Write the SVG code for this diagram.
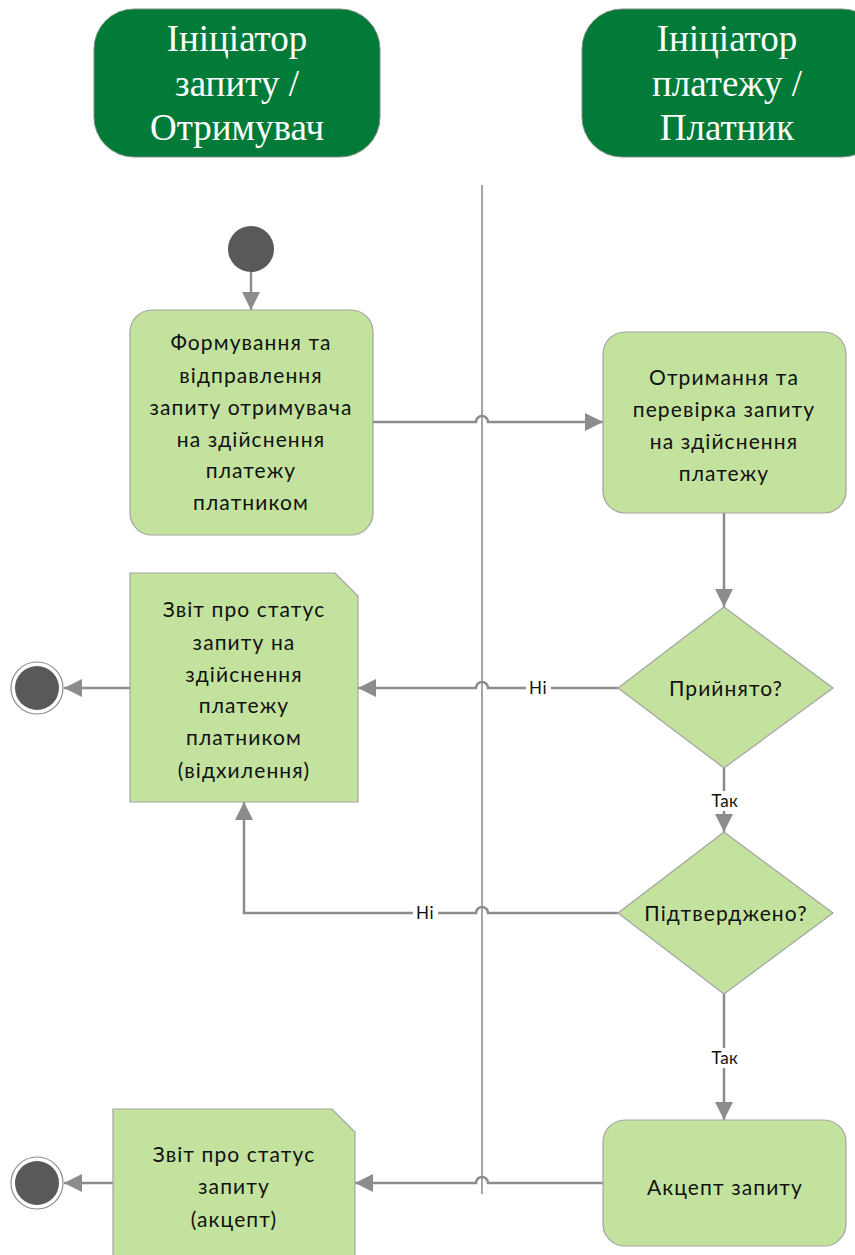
<svg xmlns="http://www.w3.org/2000/svg" width="855" height="1255" viewBox="0 0 855 1255">
  <style>
    .lane { fill: #037b38; stroke: #7f8f80; stroke-width: 1; }
    .lane-text { font-family: "Liberation Serif", "Times New Roman", serif; font-size: 37px; fill: #ffffff; text-anchor: middle; }
    .act { fill: #c3e29d; stroke: #a3a3a3; stroke-width: 1.2; }
    .txt { font-family: Lato, "Noto Sans", sans-serif; font-size: 21px; letter-spacing: 1.1px; fill: #111111; text-anchor: middle; }
    .lbl { font-family: Lato, "Noto Sans", sans-serif; font-size: 17px; letter-spacing: 0.5px; fill: #111111; text-anchor: middle; }
    .conn { fill: none; stroke: #8c8c8c; stroke-width: 2.5; }
    .divider { fill: none; stroke: #a6a6a6; stroke-width: 2; }
    .dot { fill: #595959; }
  </style>
  <defs>
    <marker id="arrow" viewBox="0 0 10 10" refX="10" refY="5" markerWidth="7.6" markerHeight="7.2" markerUnits="strokeWidth" orient="auto">
      <path d="M0,0 L10,5 L0,10 z" fill="#8c8c8c"/>
    </marker>
  </defs>

  <rect width="855" height="1255" fill="#ffffff"/>

  <!-- swimlane headers -->
  <g id="lane-receiver">
    <rect class="lane" x="94" y="9" width="286" height="148" rx="40"/>
    <text class="lane-text" x="237" y="51">Ініціатор</text>
    <text class="lane-text" x="237" y="96">запиту /</text>
    <text class="lane-text" x="237" y="140">Отримувач</text>
  </g>
  <g id="lane-payer">
    <rect class="lane" x="582" y="9" width="300" height="148" rx="40"/>
    <text class="lane-text" x="727" y="51">Ініціатор</text>
    <text class="lane-text" x="727" y="96">платежу /</text>
    <text class="lane-text" x="727" y="140">Платник</text>
  </g>

  <!-- lane divider -->
  <line class="divider" x1="482" y1="185" x2="482" y2="1194"/>

  <!-- connectors -->
  <g id="connectors">
    <path class="conn" d="M251,272 L251,310" marker-end="url(#arrow)"/>
    <path class="conn" d="M373,422 L476,422 A6,6 0 0 1 488,422 L603,422" marker-end="url(#arrow)"/>
    <path class="conn" d="M724,513 L724,607" marker-end="url(#arrow)"/>
    <path class="conn" d="M618,688 L488,688 A6,6 0 0 0 476,688 L358,688" marker-end="url(#arrow)"/>
    <path class="conn" d="M130,688 L64,688" marker-end="url(#arrow)"/>
    <path class="conn" d="M724,768 L724,832" marker-end="url(#arrow)"/>
    <path class="conn" d="M618,913 L488,913 A6,6 0 0 0 476,913 L244,913 L244,802" marker-end="url(#arrow)"/>
    <path class="conn" d="M724,994 L724,1120" marker-end="url(#arrow)"/>
    <path class="conn" d="M603,1183 L488,1183 A6,6 0 0 0 476,1183 L355,1183" marker-end="url(#arrow)"/>
    <path class="conn" d="M113,1183 L64,1183" marker-end="url(#arrow)"/>
    <!-- connector labels -->
    <rect x="526" y="678" width="25" height="20" fill="#ffffff"/>
    <text class="lbl" x="538" y="694">Ні</text>
    <rect x="413" y="903" width="25" height="20" fill="#ffffff"/>
    <text class="lbl" x="425" y="919">Ні</text>
    <rect x="707" y="791" width="36" height="20" fill="#ffffff"/>
    <text class="lbl" x="725" y="807">Так</text>
    <rect x="707" y="1048" width="36" height="20" fill="#ffffff"/>
    <text class="lbl" x="725" y="1064">Так</text>
  </g>

  <!-- start node -->
  <g id="start">
    <circle class="dot" cx="251" cy="249" r="23"/>
  </g>

  <!-- forming and sending the request -->
  <g id="form-request">
    <rect class="act" x="130" y="310" width="243" height="225" rx="22"/>
    <text class="txt" x="251" y="350">Формування та</text>
    <text class="txt" x="251" y="383">відправлення</text>
    <text class="txt" x="251" y="415">запиту отримувача</text>
    <text class="txt" x="251" y="447">на здійснення</text>
    <text class="txt" x="251" y="478">платежу</text>
    <text class="txt" x="251" y="510">платником</text>
  </g>

  <!-- receiving and checking the request -->
  <g id="check-request">
    <rect class="act" x="603" y="332" width="243" height="181" rx="22"/>
    <text class="txt" x="724" y="385">Отримання та</text>
    <text class="txt" x="724" y="417">перевірка запиту</text>
    <text class="txt" x="724" y="449">на здійснення</text>
    <text class="txt" x="724" y="481">платежу</text>
  </g>

  <!-- decision: accepted -->
  <g id="accepted">
    <polygon class="act" points="724,607 833,688 724,768 618,688"/>
    <text class="txt" x="726" y="696">Прийнято?</text>
  </g>

  <!-- decision: confirmed -->
  <g id="confirmed">
    <polygon class="act" points="724,832 833,913 724,994 618,913"/>
    <text class="txt" x="726" y="921">Підтверджено?</text>
  </g>

  <!-- rejection status report -->
  <g id="report-reject">
    <polygon class="act" points="130,573 335,573 358,596 358,802 130,802"/>
    <text class="txt" x="244" y="617">Звіт про статус</text>
    <text class="txt" x="244" y="650">запиту на</text>
    <text class="txt" x="244" y="682">здійснення</text>
    <text class="txt" x="244" y="713">платежу</text>
    <text class="txt" x="244" y="745">платником</text>
    <text class="txt" x="244" y="778">(відхилення)</text>
  </g>

  <!-- acceptance of the request -->
  <g id="accept-request">
    <rect class="act" x="603" y="1120" width="243" height="126" rx="22"/>
    <text class="txt" x="725" y="1195">Акцепт запиту</text>
  </g>

  <!-- acceptance status report -->
  <g id="report-accept">
    <polygon class="act" points="113,1109 332,1109 355,1132 355,1262 113,1262"/>
    <text class="txt" x="234" y="1162">Звіт про статус</text>
    <text class="txt" x="234" y="1194">запиту</text>
    <text class="txt" x="234" y="1227">(акцепт)</text>
  </g>

  <!-- end nodes -->
  <g id="end-reject">
    <circle cx="37" cy="688" r="26" fill="#ffffff" stroke="#8c8c8c" stroke-width="1.2"/>
    <circle class="dot" cx="37" cy="688" r="22"/>
  </g>
  <g id="end-accept">
    <circle cx="37" cy="1183" r="26" fill="#ffffff" stroke="#8c8c8c" stroke-width="1.2"/>
    <circle class="dot" cx="37" cy="1183" r="22"/>
  </g>
</svg>
